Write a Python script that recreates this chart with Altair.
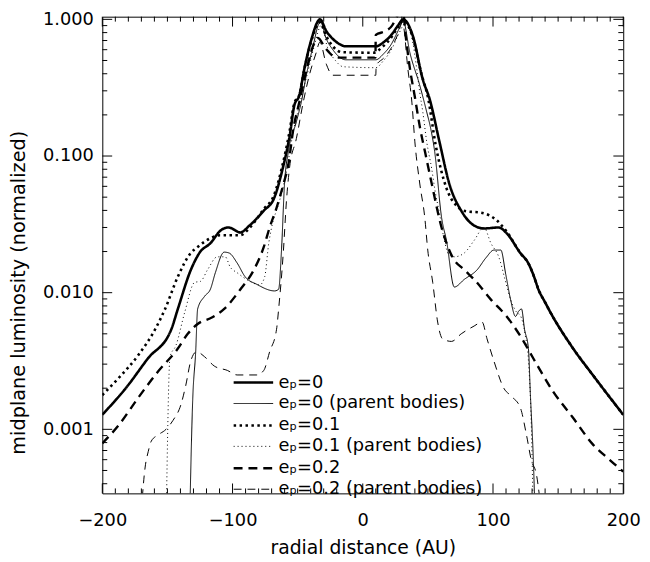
import altair as alt
import pandas as pd

FONT = "DejaVu Sans"

series_names = [
    "eₚ=0",
    "eₚ=0 (parent bodies)",
    "eₚ=0.1",
    "eₚ=0.1 (parent bodies)",
    "eₚ=0.2",
    "eₚ=0.2 (parent bodies)",
]

# e_p = 0 (thick solid)
s1_x = [-200, -182, -165, -147, -142, -132, -125, -117, -109, -103, -94, -87, -76, -68, -62, -56,
        -52.5, -48.7, -45, -39.6, -32.8, -28, -23, -18, -13, 10, 16, 22, 27, 31, 38.5, 46.1, 51.4,
        58.9, 66.5, 75.6, 85.5, 93, 104.4, 110.5, 121, 127, 131, 135, 140, 144, 160, 178, 200]
s1_y = [0.00128, 0.002, 0.0033, 0.0054, 0.0076, 0.0147, 0.0198, 0.023, 0.0286, 0.030, 0.0276, 0.031,
        0.0398, 0.0494, 0.0774, 0.143, 0.236, 0.278, 0.428, 0.705, 1.0, 0.82, 0.72, 0.66, 0.635, 0.635,
        0.68, 0.77, 0.9, 1.0, 0.754, 0.363, 0.26, 0.127, 0.0624, 0.0398, 0.031, 0.0295, 0.030, 0.0272,
        0.0195, 0.0165, 0.0135, 0.0105, 0.0085, 0.0072, 0.0041, 0.0024, 0.00128]

# e_p = 0 parent bodies (thin solid)
s2_x = [-133, -130.6, -128.3, -126.8, -121.5, -117, -113.2, -106.4, -102.6, -96.5, -90.4, -81.3, -67.7,
        -64.6, -62.4, -60.1, -57.1, -51, -47.2, -43.4, -38.1, -33.6, -32.5, -28, -23, -18, -13, 10, 16,
        22, 27, 31, 36.2, 43.8, 49.1, 52.1, 55.2, 60.5, 64.3, 70.3, 77.9, 87.8, 94.6, 100.7, 106, 109.8,
        113.5, 117.3, 119.6, 121.9, 124.2, 127.2, 128.7, 131, 132.5]
s2_y = [0.0002, 0.00163, 0.0037, 0.0076, 0.0094, 0.0106, 0.014, 0.0198, 0.0195, 0.0165, 0.0131, 0.0115,
        0.0103, 0.0106, 0.0205, 0.0624, 0.108, 0.178, 0.248, 0.388, 0.64, 0.936, 0.96, 0.72, 0.6, 0.53,
        0.506, 0.506, 0.56, 0.66, 0.82, 0.97, 0.569, 0.328, 0.21, 0.16, 0.108, 0.0355, 0.024, 0.011,
        0.0125, 0.0147, 0.018, 0.0205, 0.0205, 0.0136, 0.0089, 0.0067, 0.0073, 0.0076, 0.0054, 0.0039,
        0.0018, 0.00059, 0.0002]

# e_p = 0.1 (thick dotted)
s3_x = [-200, -187.5, -172.3, -159.4, -151.8, -142, -132.1, -126.8, -117, -109.4, -94.2, -86.6, -76,
        -68.4, -62.4, -56.3, -52.5, -48.7, -44.9, -39.6, -33, -28, -22, -16, 8, 16, 22, 27, 31, 38, 45,
        50, 56, 64.3, 71.8, 79.4, 90.8, 102.9, 110.5, 121, 127, 131, 135, 140, 144, 160, 178, 200]
s3_y = [0.00178, 0.00237, 0.0035, 0.0054, 0.0076, 0.0131, 0.0195, 0.0216, 0.025, 0.0263, 0.0263, 0.030,
        0.041, 0.051, 0.08, 0.15, 0.245, 0.28, 0.43, 0.69, 0.95, 0.75, 0.62, 0.575, 0.57, 0.64, 0.74,
        0.88, 0.98, 0.76, 0.4, 0.27, 0.12, 0.058, 0.0434, 0.0394, 0.0385, 0.0338, 0.028, 0.0195, 0.0165,
        0.0135, 0.0105, 0.0085, 0.0072, 0.0041, 0.0024, 0.00128]

# e_p = 0.1 parent bodies (thin dotted)
s4_x = [-151, -148, -143.5, -136.7, -129.1, -124.6, -119.2, -111.7, -105.6, -101.8, -96.5, -86.6, -79.1,
        -75.3, -72.2, -70, -63.9, -58.6, -54, -48, -42, -37, -32, -27, -21, -15, 10, 16, 22, 27, 33,
        38.5, 41.5, 43.8, 46.1, 49.1, 52.9, 55.2, 58.9, 62.7, 66, 70.3, 77.9, 85.5, 93, 98.4, 104.4,
        109.8, 113.5, 118.1, 121, 124.9, 127.2, 129.5, 131]
s4_y = [0.0002, 0.0034, 0.0041, 0.0072, 0.0119, 0.0121, 0.0147, 0.0183, 0.0183, 0.0154, 0.014, 0.0121,
        0.0114, 0.0131, 0.023, 0.030, 0.047, 0.077, 0.14, 0.25, 0.42, 0.65, 0.9, 0.62, 0.5, 0.45, 0.443,
        0.5, 0.6, 0.76, 0.94, 0.67, 0.43, 0.29, 0.21, 0.127, 0.081, 0.058, 0.038, 0.024, 0.019, 0.0183,
        0.0195, 0.0241, 0.030, 0.023, 0.0183, 0.0119, 0.0089, 0.0072, 0.0068, 0.0048, 0.0032, 0.001,
        0.0002]

# e_p = 0.2 (thick dashed)
s5_x = [-200, -187.5, -172.3, -157.2, -142, -134.4, -126.8, -115.5, -106.4, -94.2, -83.6, -76, -71.5,
        -66.2, -60.9, -57.1, -53.3, -48.7, -41.9, -37.3, -34.4, -29, -24, -20, 9.7, 10, 17.3, 22.5,
        26.3, 29.5, 31, 33, 36, 40, 44, 48, 53, 60.5, 68.8, 77.9, 85.5, 98.4, 110.5, 121.1, 131, 146,
        161.3, 176.5, 189.4, 200]
s5_y = [0.00079, 0.00107, 0.00171, 0.00265, 0.0039, 0.005, 0.0059, 0.0066, 0.0076, 0.0105, 0.0147,
        0.0216, 0.030, 0.0418, 0.0624, 0.087, 0.158, 0.248, 0.481, 0.671, 0.73, 0.62, 0.55, 0.525, 0.525,
        0.77, 0.82, 0.9, 1.05, 1.15, 1.12, 0.75, 0.45, 0.27, 0.16, 0.105, 0.0624, 0.030, 0.0183, 0.0147,
        0.0125, 0.0089, 0.0067, 0.0048, 0.0033, 0.0019, 0.00122, 0.00078, 0.0006, 0.00049]

# e_p = 0.2 parent bodies (thin dashed)
s6_x = [-170.8, -167.1, -164.7, -162.4, -157.2, -151.1, -145.8, -139.7, -135.9, -132.1, -127.6, -121.5,
        -113.9, -104, -96.5, -81.3, -76, -71.5, -66.2, -64.6, -60.9, -58.6, -56.3, -51, -45.7, -41.1,
        -35.8, -33, -28, -23, 10, 10.3, 16, 22, 27, 30.5, 34.7, 37.7, 40, 43.8, 47.6, 49.9, 53.7, 57.5,
        61.2, 68.1, 75.6, 85.5, 91.6, 95.4, 100.7, 108.3, 114.3, 121.1, 125.7, 129.5, 133.3, 138]
s6_y = [0.0002, 0.00053, 0.00069, 0.00082, 0.00091, 0.001, 0.00116, 0.00151, 0.0021, 0.00316, 0.0037,
        0.0034, 0.0029, 0.0027, 0.0025, 0.0025, 0.0027, 0.0037, 0.0054, 0.0076, 0.0205, 0.047, 0.081,
        0.134, 0.248, 0.388, 0.569, 0.68, 0.47, 0.39, 0.39, 0.46, 0.52, 0.62, 0.78, 0.95, 0.428, 0.248,
        0.127, 0.0624, 0.0355, 0.0205, 0.0119, 0.0061, 0.0046, 0.0044, 0.005, 0.0057, 0.0061, 0.0046,
        0.00316, 0.002, 0.00174, 0.00143, 0.00091, 0.00059, 0.00047, 0.0002]

# axis tick values
x_major = [-200, -100, 0, 100, 200]
x_minor = [-190, -180, -170, -160, -150, -140, -130, -120, -110, -90, -80, -70, -60, -50, -40, -30,
           -20, -10, 10, 20, 30, 40, 50, 60, 70, 80, 90, 110, 120, 130, 140, 150, 160, 170, 180, 190]
y_major = [0.001, 0.01, 0.1, 1.0]
y_minor = [0.0004, 0.0005, 0.0006, 0.0007, 0.0008, 0.0009,
           0.002, 0.003, 0.004, 0.005, 0.006, 0.007, 0.008, 0.009,
           0.02, 0.03, 0.04, 0.05, 0.06, 0.07, 0.08, 0.09,
           0.2, 0.3, 0.4, 0.5, 0.6, 0.7, 0.8, 0.9]

dash_range = [[1, 0], [1, 0], [2.5, 3.5], [1, 3], [9, 6], [8, 6]]
width_range = [2.6, 1.0, 2.6, 1.0, 2.4, 1.0]

rows = []
for name, xs, ys in zip(series_names,
                        [s1_x, s2_x, s3_x, s4_x, s5_x, s6_x],
                        [s1_y, s2_y, s3_y, s4_y, s5_y, s6_y]):
    for xv, yv in zip(xs, ys):
        rows.append({"series": name, "x": xv, "y": yv})
df = pd.DataFrame(rows)

W = 527.5
H = 482.7
MAJ = 10
MIN = 5

xscale = alt.Scale(domain=[-200, 200], nice=False, zero=False)
yscale = alt.Scale(type="log", domain=[0.00034, 1.046], nice=False)

xaxis = alt.Axis(values=x_major, ticks=False, tickSize=0, domain=False, grid=False,
                 labelFlush=False, labelOverlap=False,
                 labelFont=FONT, labelFontSize=18, labelColor="black", labelPadding=19,
                 title="radial distance (AU)", titleFont=FONT, titleFontSize=19,
                 titleFontWeight="normal", titleColor="black", titleY=61,
                 titleBaseline="alphabetic")
yaxis = alt.Axis(values=y_major, format=".3f", ticks=False, tickSize=0, domain=False, grid=False,
                 labelFlush=False, labelOverlap=False,
                 labelFont=FONT, labelFontSize=18, labelColor="black", labelPadding=9,
                 title="midplane luminosity (normalized)", titleFont=FONT, titleFontSize=19.5,
                 titleFontWeight="normal", titleColor="black", titleAngle=270, titleX=-85,
                 titleY=279, titleAlign="center", titleBaseline="middle")

# a line-sample symbol twice as wide as the nominal symbol size
legend = alt.Legend(orient="none", legendX=141.5, legendY=359, title=None, labelFont=FONT,
                    labelFontSize=18, labelColor="black", labelLimit=600, labelOffset=14,
                    rowPadding=1.2, symbolType="M-2,0H2", symbolSize=400,
                    symbolStrokeColor="black", symbolFillColor="transparent", padding=0)

lines = alt.Chart(df).mark_line(clip=True, interpolate="monotone", color="black").encode(
    x=alt.X("x:Q", scale=xscale, axis=xaxis),
    y=alt.Y("y:Q", scale=yscale, axis=yaxis),
    strokeDash=alt.StrokeDash("series:N",
                              scale=alt.Scale(type="ordinal", domain=series_names, range=dash_range),
                              legend=legend),
    strokeWidth=alt.StrokeWidth("series:N",
                                scale=alt.Scale(type="ordinal", domain=series_names, range=width_range),
                                legend=legend),
    detail="series:N",
)

xmaj_df = pd.DataFrame({"x": x_major})
xmin_df = pd.DataFrame({"x": x_minor})
ymaj_df = pd.DataFrame({"y": y_major})
ymin_df = pd.DataFrame({"y": y_minor})


def xticks(d, y0, y1):
    return alt.Chart(d).mark_rule(color="black", strokeWidth=1).encode(
        x=alt.X("x:Q", scale=xscale, axis=xaxis), y=alt.value(y0), y2=alt.value(y1))


def yticks(d, x0, x1):
    return alt.Chart(d).mark_rule(color="black", strokeWidth=1).encode(
        y=alt.Y("y:Q", scale=yscale, axis=yaxis), x=alt.value(x0), x2=alt.value(x1))


ticks = [
    xticks(xmaj_df, H, H - MAJ), xticks(xmin_df, H, H - MIN),
    xticks(xmaj_df, 0, MAJ), xticks(xmin_df, 0, MIN),
    yticks(ymaj_df, 0, MAJ), yticks(ymin_df, 0, MIN),
    yticks(ymaj_df, W, W - MAJ), yticks(ymin_df, W, W - MIN),
]

chart = alt.layer(*ticks, lines).properties(
    width=W, height=H,
    autosize=alt.AutoSizeParams(type="none"),
    padding={"left": 95.5, "top": 5.3, "right": 19, "bottom": 66},
).configure_view(stroke="black", strokeWidth=1)

chart.save("out.html", embed_options={"renderer": "svg", "actions": False})
